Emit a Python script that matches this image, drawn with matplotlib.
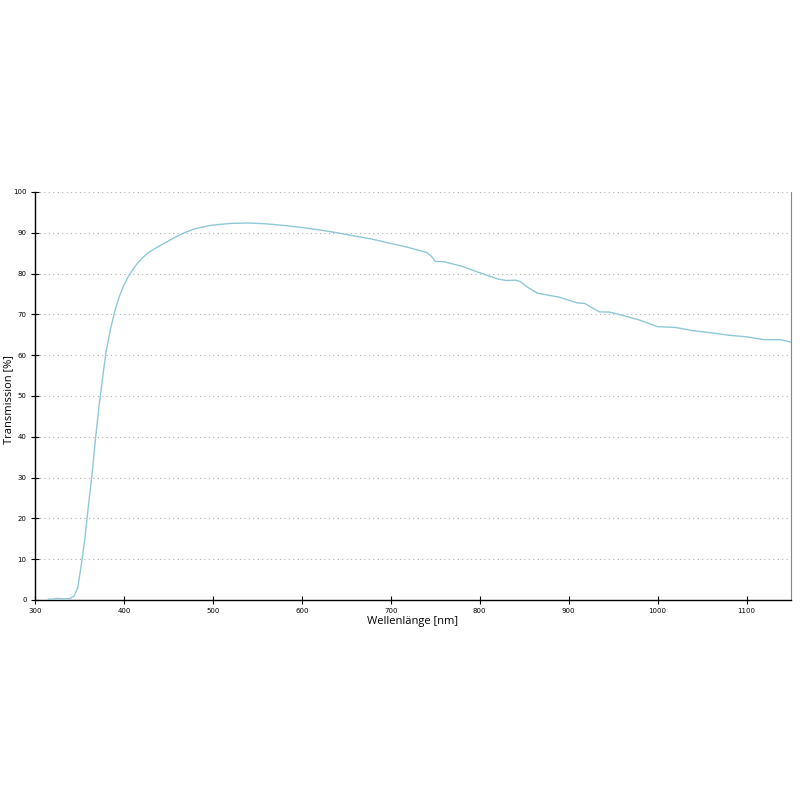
import matplotlib
matplotlib.use("Agg")
import matplotlib.pyplot as plt

# wavelength in nm, transmission in %
wavelength = [315, 320, 325, 330, 335, 340, 344, 348, 352, 356, 360, 364, 368, 372,
              376, 380, 385, 390, 395, 400, 405, 410, 415, 420, 425, 430, 440, 450,
              460, 470, 480, 490, 500, 520, 540, 560, 580, 600, 620, 640, 660, 680,
              700, 720, 740, 745, 750, 760, 780, 800, 820, 830, 840, 845, 855, 865,
              875, 890, 900, 910, 918, 925, 935, 945, 955, 965, 980, 990, 1000, 1020,
              1040, 1060, 1080, 1100, 1120, 1138, 1150]
transmission = [0.2, 0.2, 0.4, 0.3, 0.3, 0.4, 1.0, 3.0, 8.5, 15.0, 23.0, 30.5, 39.5, 47.5,
                54.5, 61.0, 66.5, 71.0, 74.5, 77.2, 79.3, 81.0, 82.5, 83.7, 84.7, 85.5, 86.8, 88.0,
                89.2, 90.2, 91.0, 91.5, 91.9, 92.3, 92.4, 92.2, 91.8, 91.3, 90.7, 90.0, 89.2, 88.4,
                87.4, 86.4, 85.2, 84.4, 83.0, 82.9, 81.8, 80.2, 78.7, 78.3, 78.4, 78.1, 76.5, 75.2,
                74.8, 74.2, 73.5, 72.8, 72.7, 71.8, 70.6, 70.6, 70.1, 69.5, 68.6, 67.8, 67.0, 66.8,
                66.0, 65.5, 64.9, 64.5, 63.8, 63.8, 63.2]

x_ticks = [300, 400, 500, 600, 700, 800, 900, 1000, 1100]
y_ticks = [0, 10, 20, 30, 40, 50, 60, 70, 80, 90, 100]

fig = plt.figure(figsize=(8, 8), dpi=100)
ax = fig.add_axes([0.04375, 0.25, 0.945, 0.51])

for yv in y_ticks[1:]:
    ax.axhline(yv, color="#b0b0b0", lw=0.8, ls=(0, (1, 3)), zorder=1)

ax.plot(wavelength, transmission, color="#8ec8d8", lw=1.0, zorder=3)

ax.set_xlim(300, 1150)
ax.set_ylim(0, 100)
ax.set_xticks(x_ticks)
ax.set_yticks(y_ticks)
ax.tick_params(axis="both", direction="inout", length=6, width=0.8, labelsize=5, pad=3)

ax.spines["top"].set_visible(False)
ax.spines["right"].set_color("#888888")
ax.spines["left"].set_linewidth(1.0)
ax.spines["bottom"].set_linewidth(1.0)

ax.set_xlabel("Wellenlänge [nm]", fontsize=8, labelpad=1, family="Open Sans")
fig.text(0.011, 0.5, "Transmission [%]", rotation=90, ha="center", va="center",
         fontsize=8, family="Open Sans")

fig.savefig("out.png", dpi=100)
